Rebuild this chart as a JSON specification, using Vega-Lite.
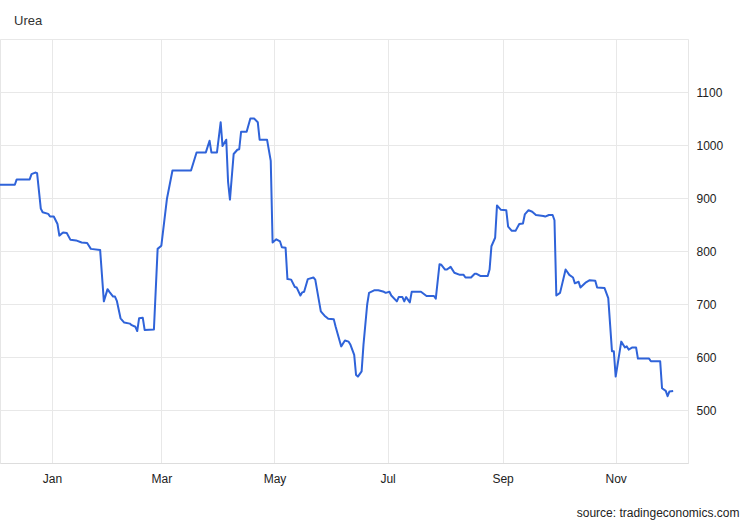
{
  "$schema": "https://vega.github.io/schema/vega-lite/v6.json",
  "width": 688,
  "height": 424,
  "autosize": {"type": "none"},
  "padding": {"left": 0, "top": 39, "right": 62, "bottom": 57},
  "background": "#ffffff",
  "title": {
    "text": "Urea",
    "anchor": "start",
    "frame": "group",
    "dx": 14,
    "offset": 1,
    "baseline": "alphabetic",
    "font": "Liberation Sans",
    "fontSize": 13,
    "fontWeight": "normal",
    "color": "#333333"
  },
  "config": {
    "view": {"stroke": "#e6e6e6", "strokeWidth": 1},
    "axis": {"labelFont": "Liberation Sans", "titleFont": "Liberation Sans"}
  },
  "data": {
    "values": [
      {"date": "2021-12-04", "price": 925},
      {"date": "2021-12-12", "price": 925},
      {"date": "2021-12-13", "price": 935},
      {"date": "2021-12-20", "price": 935},
      {"date": "2021-12-21", "price": 945},
      {"date": "2021-12-23", "price": 948},
      {"date": "2021-12-24", "price": 947},
      {"date": "2021-12-26", "price": 880},
      {"date": "2021-12-27", "price": 873},
      {"date": "2021-12-30", "price": 870},
      {"date": "2021-12-31", "price": 865},
      {"date": "2022-01-02", "price": 865},
      {"date": "2022-01-04", "price": 851},
      {"date": "2022-01-05", "price": 829},
      {"date": "2022-01-07", "price": 835},
      {"date": "2022-01-09", "price": 834},
      {"date": "2022-01-11", "price": 821},
      {"date": "2022-01-14", "price": 820},
      {"date": "2022-01-17", "price": 816},
      {"date": "2022-01-20", "price": 815},
      {"date": "2022-01-22", "price": 804},
      {"date": "2022-01-27", "price": 802},
      {"date": "2022-01-29", "price": 705},
      {"date": "2022-01-31", "price": 728},
      {"date": "2022-02-01", "price": 723},
      {"date": "2022-02-03", "price": 714},
      {"date": "2022-02-04", "price": 714},
      {"date": "2022-02-05", "price": 706},
      {"date": "2022-02-07", "price": 673},
      {"date": "2022-02-09", "price": 665},
      {"date": "2022-02-12", "price": 663},
      {"date": "2022-02-13", "price": 660},
      {"date": "2022-02-15", "price": 657},
      {"date": "2022-02-16", "price": 649},
      {"date": "2022-02-17", "price": 673},
      {"date": "2022-02-19", "price": 674},
      {"date": "2022-02-20", "price": 651},
      {"date": "2022-02-25", "price": 652},
      {"date": "2022-02-27", "price": 804},
      {"date": "2022-03-01", "price": 810},
      {"date": "2022-03-04", "price": 898},
      {"date": "2022-03-07", "price": 952},
      {"date": "2022-03-17", "price": 952},
      {"date": "2022-03-20", "price": 986},
      {"date": "2022-03-25", "price": 986},
      {"date": "2022-03-27", "price": 1008},
      {"date": "2022-03-28", "price": 986},
      {"date": "2022-03-31", "price": 986},
      {"date": "2022-04-02", "price": 1043},
      {"date": "2022-04-03", "price": 998},
      {"date": "2022-04-05", "price": 1010},
      {"date": "2022-04-06", "price": 930},
      {"date": "2022-04-07", "price": 897},
      {"date": "2022-04-09", "price": 983},
      {"date": "2022-04-11", "price": 991},
      {"date": "2022-04-12", "price": 992},
      {"date": "2022-04-13", "price": 1025},
      {"date": "2022-04-16", "price": 1025},
      {"date": "2022-04-18", "price": 1050},
      {"date": "2022-04-20", "price": 1050},
      {"date": "2022-04-22", "price": 1043},
      {"date": "2022-04-23", "price": 1010},
      {"date": "2022-04-27", "price": 1010},
      {"date": "2022-04-29", "price": 970},
      {"date": "2022-04-30", "price": 816},
      {"date": "2022-05-02", "price": 822},
      {"date": "2022-05-04", "price": 818},
      {"date": "2022-05-05", "price": 807},
      {"date": "2022-05-07", "price": 806},
      {"date": "2022-05-08", "price": 747},
      {"date": "2022-05-10", "price": 746},
      {"date": "2022-05-12", "price": 732},
      {"date": "2022-05-13", "price": 731},
      {"date": "2022-05-15", "price": 716},
      {"date": "2022-05-16", "price": 722},
      {"date": "2022-05-17", "price": 723},
      {"date": "2022-05-19", "price": 747},
      {"date": "2022-05-22", "price": 750},
      {"date": "2022-05-23", "price": 746},
      {"date": "2022-05-26", "price": 686},
      {"date": "2022-05-28", "price": 678},
      {"date": "2022-05-30", "price": 672},
      {"date": "2022-06-02", "price": 671},
      {"date": "2022-06-03", "price": 657},
      {"date": "2022-06-06", "price": 620},
      {"date": "2022-06-08", "price": 631},
      {"date": "2022-06-10", "price": 629},
      {"date": "2022-06-11", "price": 623},
      {"date": "2022-06-13", "price": 604},
      {"date": "2022-06-14", "price": 566},
      {"date": "2022-06-15", "price": 563},
      {"date": "2022-06-17", "price": 573},
      {"date": "2022-06-18", "price": 623},
      {"date": "2022-06-20", "price": 699},
      {"date": "2022-06-21", "price": 721},
      {"date": "2022-06-24", "price": 726},
      {"date": "2022-06-26", "price": 726},
      {"date": "2022-06-29", "price": 723},
      {"date": "2022-06-30", "price": 721},
      {"date": "2022-07-02", "price": 723},
      {"date": "2022-07-03", "price": 716},
      {"date": "2022-07-06", "price": 705},
      {"date": "2022-07-07", "price": 713},
      {"date": "2022-07-09", "price": 713},
      {"date": "2022-07-10", "price": 705},
      {"date": "2022-07-11", "price": 713},
      {"date": "2022-07-13", "price": 703},
      {"date": "2022-07-14", "price": 723},
      {"date": "2022-07-19", "price": 723},
      {"date": "2022-07-22", "price": 715},
      {"date": "2022-07-26", "price": 715},
      {"date": "2022-07-27", "price": 710},
      {"date": "2022-07-29", "price": 775},
      {"date": "2022-07-30", "price": 774},
      {"date": "2022-08-01", "price": 765},
      {"date": "2022-08-02", "price": 765},
      {"date": "2022-08-04", "price": 770},
      {"date": "2022-08-06", "price": 759},
      {"date": "2022-08-09", "price": 755},
      {"date": "2022-08-11", "price": 755},
      {"date": "2022-08-12", "price": 750},
      {"date": "2022-08-15", "price": 750},
      {"date": "2022-08-17", "price": 757},
      {"date": "2022-08-18", "price": 757},
      {"date": "2022-08-20", "price": 753},
      {"date": "2022-08-24", "price": 753},
      {"date": "2022-08-25", "price": 765},
      {"date": "2022-08-26", "price": 809},
      {"date": "2022-08-28", "price": 825},
      {"date": "2022-08-29", "price": 886},
      {"date": "2022-08-31", "price": 878},
      {"date": "2022-09-03", "price": 877},
      {"date": "2022-09-04", "price": 846},
      {"date": "2022-09-06", "price": 838},
      {"date": "2022-09-08", "price": 838},
      {"date": "2022-09-10", "price": 851},
      {"date": "2022-09-12", "price": 852},
      {"date": "2022-09-13", "price": 869},
      {"date": "2022-09-15", "price": 877},
      {"date": "2022-09-17", "price": 874},
      {"date": "2022-09-19", "price": 868},
      {"date": "2022-09-23", "price": 866},
      {"date": "2022-09-24", "price": 865},
      {"date": "2022-09-26", "price": 868},
      {"date": "2022-09-28", "price": 868},
      {"date": "2022-09-29", "price": 858},
      {"date": "2022-09-30", "price": 716},
      {"date": "2022-10-02", "price": 721},
      {"date": "2022-10-05", "price": 765},
      {"date": "2022-10-07", "price": 755},
      {"date": "2022-10-09", "price": 750},
      {"date": "2022-10-10", "price": 739},
      {"date": "2022-10-12", "price": 742},
      {"date": "2022-10-13", "price": 731},
      {"date": "2022-10-16", "price": 741},
      {"date": "2022-10-18", "price": 745},
      {"date": "2022-10-21", "price": 744},
      {"date": "2022-10-22", "price": 731},
      {"date": "2022-10-26", "price": 730},
      {"date": "2022-10-28", "price": 711},
      {"date": "2022-10-30", "price": 611},
      {"date": "2022-10-31", "price": 611},
      {"date": "2022-11-01", "price": 563},
      {"date": "2022-11-04", "price": 629},
      {"date": "2022-11-06", "price": 618},
      {"date": "2022-11-07", "price": 620},
      {"date": "2022-11-08", "price": 614},
      {"date": "2022-11-10", "price": 618},
      {"date": "2022-11-12", "price": 618},
      {"date": "2022-11-13", "price": 597},
      {"date": "2022-11-19", "price": 597},
      {"date": "2022-11-20", "price": 592},
      {"date": "2022-11-25", "price": 592},
      {"date": "2022-11-26", "price": 541},
      {"date": "2022-11-28", "price": 536},
      {"date": "2022-11-29", "price": 526},
      {"date": "2022-11-30", "price": 535},
      {"date": "2022-12-02", "price": 536}
    ]
  },
  "mark": {"type": "line", "color": "#2f63d9", "strokeWidth": 2, "strokeJoin": "round"},
  "encoding": {
    "x": {
      "field": "date",
      "type": "temporal",
      "scale": {
        "type": "utc",
        "domain": [
          {"year": 2021, "month": 12, "date": 4, "utc": true},
          {"year": 2022, "month": 12, "date": 10, "utc": true}
        ]
      },
      "axis": {
        "values": [
          {"year": 2022, "month": 1, "date": 1, "utc": true},
          {"year": 2022, "month": 3, "date": 1, "utc": true},
          {"year": 2022, "month": 5, "date": 1, "utc": true},
          {"year": 2022, "month": 7, "date": 1, "utc": true},
          {"year": 2022, "month": 9, "date": 1, "utc": true},
          {"year": 2022, "month": 11, "date": 1, "utc": true}
        ],
        "labelExpr": "utcFormat(datum.value, '%b')",
        "grid": true,
        "gridColor": "#e8e8e8",
        "ticks": false,
        "domain": true,
        "domainColor": "#dddddd",
        "labelFontSize": 12,
        "labelColor": "#222222",
        "labelPadding": 10,
        "title": "source: tradingeconomics.com",
        "titleFontSize": 12,
        "titleFontWeight": "normal",
        "titleColor": "#222222",
        "titleAnchor": "end",
        "titleAlign": "right",
        "titleBaseline": "alphabetic",
        "titleX": 739,
        "titleY": 53
      }
    },
    "y": {
      "field": "price",
      "type": "quantitative",
      "scale": {"domain": [400, 1200], "nice": false, "zero": false},
      "axis": {
        "orient": "right",
        "values": [400, 500, 600, 700, 800, 900, 1000, 1100, 1200],
        "format": "d",
        "labelExpr": "datum.value == 400 || datum.value == 1200 ? '' : datum.label",
        "grid": true,
        "gridColor": "#e8e8e8",
        "ticks": false,
        "domain": false,
        "labelFontSize": 12,
        "labelColor": "#222222",
        "labelPadding": 8,
        "title": null
      }
    }
  }
}
